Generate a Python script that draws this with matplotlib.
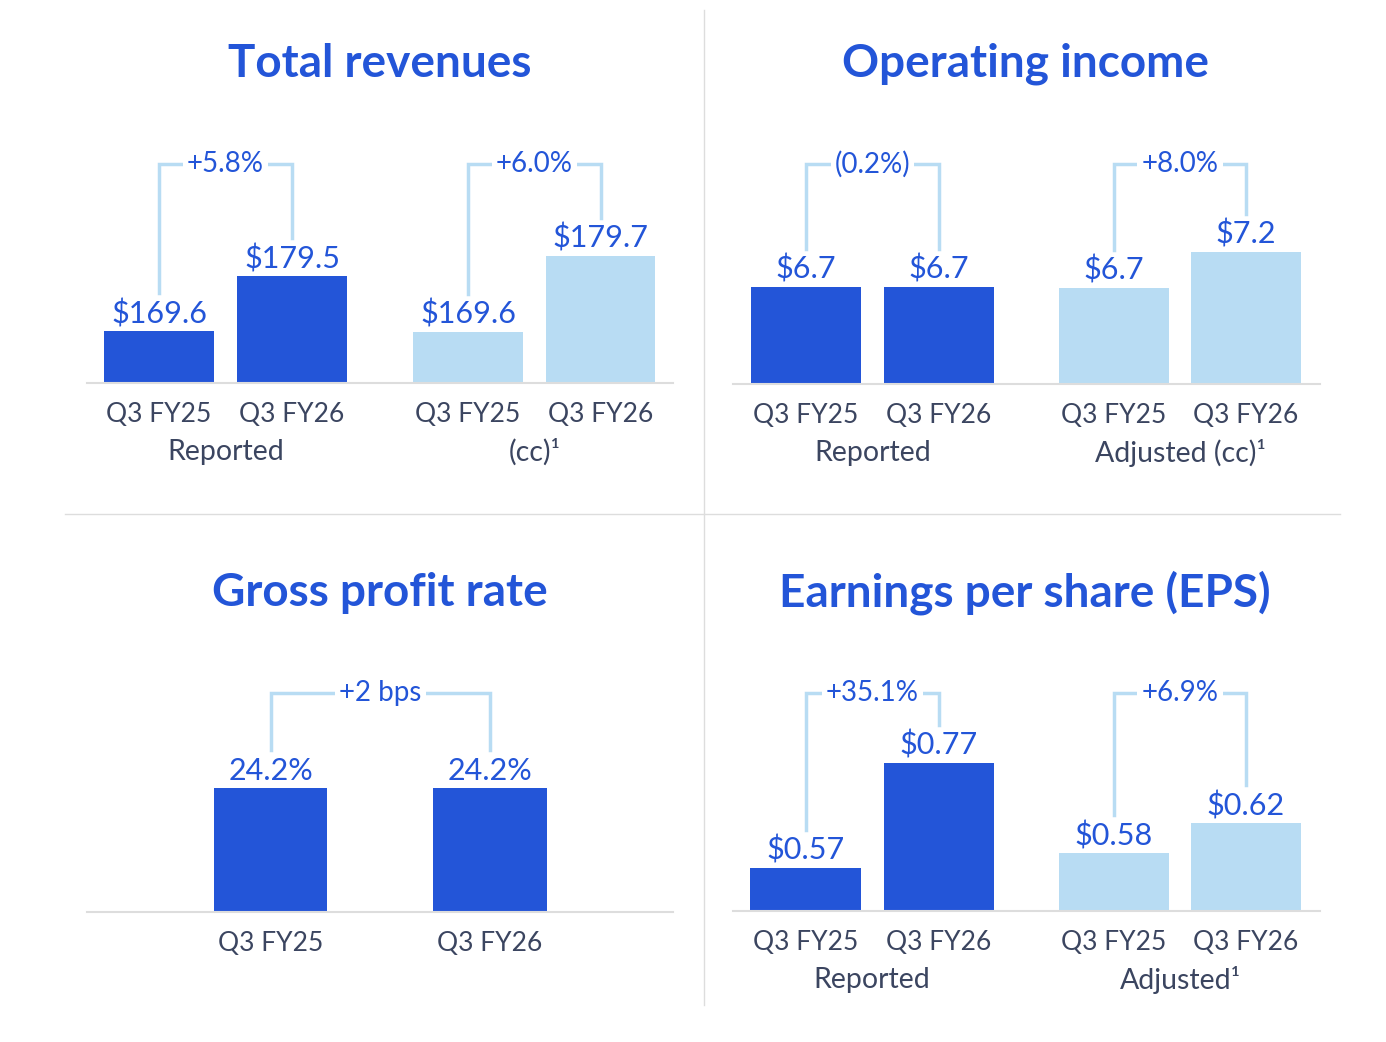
import matplotlib as mpl
mpl.use('Agg')
import matplotlib.pyplot as plt
from matplotlib.lines import Line2D

plt.rcParams['font.family'] = ['Lato', 'DejaVu Sans']

W, H = 1386, 1042

BLUE = '#2355d8'
LIGHT = '#b8dcf3'
TEXT = '#3b4560'
GRID = '#dddddd'

# --- data ---
titles = ["Total revenues", "Operating income", "Gross profit rate", "Earnings per share (EPS)"]
periods = ["Q3 FY25", "Q3 FY26"]

rev_reported = [169.6, 179.5]
rev_cc = [169.6, 179.7]
oi_reported = [6.7, 6.7]
oi_adjusted_cc = [6.7, 7.2]
gp_rate = [24.2, 24.2]
eps_reported = [0.57, 0.77]
eps_adjusted = [0.58, 0.62]

rev_labels = ["$169.6", "$179.5"], ["$169.6", "$179.7"]
oi_labels = ["$6.7", "$6.7"], ["$6.7", "$7.2"]
gp_labels = ["24.2%", "24.2%"]
eps_labels = ["$0.57", "$0.77"], ["$0.58", "$0.62"]

changes = ["+5.8%", "+6.0%", "(0.2%)", "+8.0%", "+2 bps", "+35.1%", "+6.9%"]
group_names = ["Reported", "(cc)\u00b9", "Reported", "Adjusted (cc)\u00b9", None, "Reported", "Adjusted\u00b9"]

# --- layout (pixels) ---
# each group: left/right x of axes, baseline y, y limits, bar width, colour, bracket top y
groups = [
    dict(vals=rev_reported, labels=rev_labels[0], x0=92.5, x1=358.5, base=383, ylim=(160.24, 205.78), w=0.83, c=BLUE, top=164),
    dict(vals=rev_cc, labels=rev_labels[1], x0=401.75, x1=666.75, base=383, ylim=(162.82, 196.44), w=0.83, c=LIGHT, top=164),
    dict(vals=oi_reported, labels=oi_labels[0], x0=739.5, x1=1005.5, base=384, ylim=(0, 17.47), w=0.83, c=BLUE, top=164),
    dict(vals=oi_adjusted_cc, labels=oi_labels[1], x0=1048, x1=1312, base=384, ylim=(5.367, 8.88), w=0.83, c=LIGHT, top=164),
    dict(vals=gp_rate, labels=gp_labels, x0=160.75, x1=599.75, base=912, ylim=(0, 49.37), w=0.515, c=BLUE, top=693),
    dict(vals=eps_reported, labels=eps_labels[0], x0=738.75, x1=1005.75, base=911, ylim=(0.488, 0.970), w=0.83, c=BLUE, top=693),
    dict(vals=eps_adjusted, labels=eps_labels[1], x0=1048, x1=1312, base=911, ylim=(0.5027, 0.840), w=0.83, c=LIGHT, top=693),
]
AX_H = 253

fig = plt.figure(figsize=(W / 100, H / 100), dpi=100)


def fy(y):
    return 1 - y / H


def fx(x):
    return x / W


# dividers
fig.add_artist(Line2D([fx(704), fx(704)], [fy(10), fy(1005)], color=GRID, lw=1))
fig.add_artist(Line2D([fx(65), fx(1340)], [fy(514), fy(514)], color=GRID, lw=1))

# baselines
for (xa, xb, y) in [(87, 673, 383), (733, 1320, 384), (87, 673, 912), (733, 1320, 911)]:
    fig.add_artist(Line2D([fx(xa), fx(xb)], [fy(y), fy(y)], color=GRID, lw=1.5))

# titles
for t, (x, y) in zip(titles, [(380, 64), (1025, 64), (380, 593), (1025, 593)]):
    fig.text(fx(x), fy(y), t, ha='center', va='center', fontsize=33, fontweight='bold', color=BLUE)

for g, chg, name in zip(groups, changes, group_names):
    ax = fig.add_axes([fx(g['x0']), fy(g['base']), fx(g['x1'] - g['x0']), AX_H / H])
    ax.set_xlim(-0.5, 1.5)
    b = g['ylim'][0]
    ax.set_ylim(*g['ylim'])
    ax.bar([0, 1], [v - b for v in g['vals']], width=g['w'], color=g['c'], bottom=b)
    ax.set_xticks([0, 1])
    ax.set_xticklabels(periods, fontsize=19, color=TEXT)
    ax.tick_params(axis='x', length=0, pad=14)
    ax.set_yticks([])
    for s in ax.spines.values():
        s.set_visible(False)
    ax.patch.set_alpha(0)
    for i, (v, lab) in enumerate(zip(g['vals'], g['labels'])):
        ax.annotate(lab, (i, v), xytext=(0, 3), textcoords='offset pixels',
                    ha='center', va='bottom', fontsize=22, color=BLUE)
    if name:
        xc = (g['x0'] + g['x1']) / 2
        fig.text(fx(xc), fy(g['base'] + 69), name, ha='center', va='center', fontsize=20.5, color=TEXT)

    # bracket
    fig.canvas.draw()
    inv = fig.transFigure.inverted()
    pts = []
    for i, v in enumerate(g['vals']):
        px, py = ax.transData.transform((i, v))
        pts.append((px, py + 38))
    ytop = (H - g['top'])
    xs = [pts[0][0], pts[0][0], pts[1][0], pts[1][0]]
    ys = [pts[0][1], ytop, ytop, pts[1][1]]
    fxy = inv.transform(list(zip(xs, ys)))
    fig.add_artist(Line2D(fxy[:, 0], fxy[:, 1], color=LIGHT, lw=2.5, solid_joinstyle='miter'))
    xm = (xs[0] + xs[2]) / 2
    fig.text(xm / W, ytop / H, chg, ha='center', va='center', fontsize=20, color=BLUE,
             bbox=dict(facecolor='white', edgecolor='none', pad=3))

fig.savefig('out.png', dpi=100, facecolor='white')
